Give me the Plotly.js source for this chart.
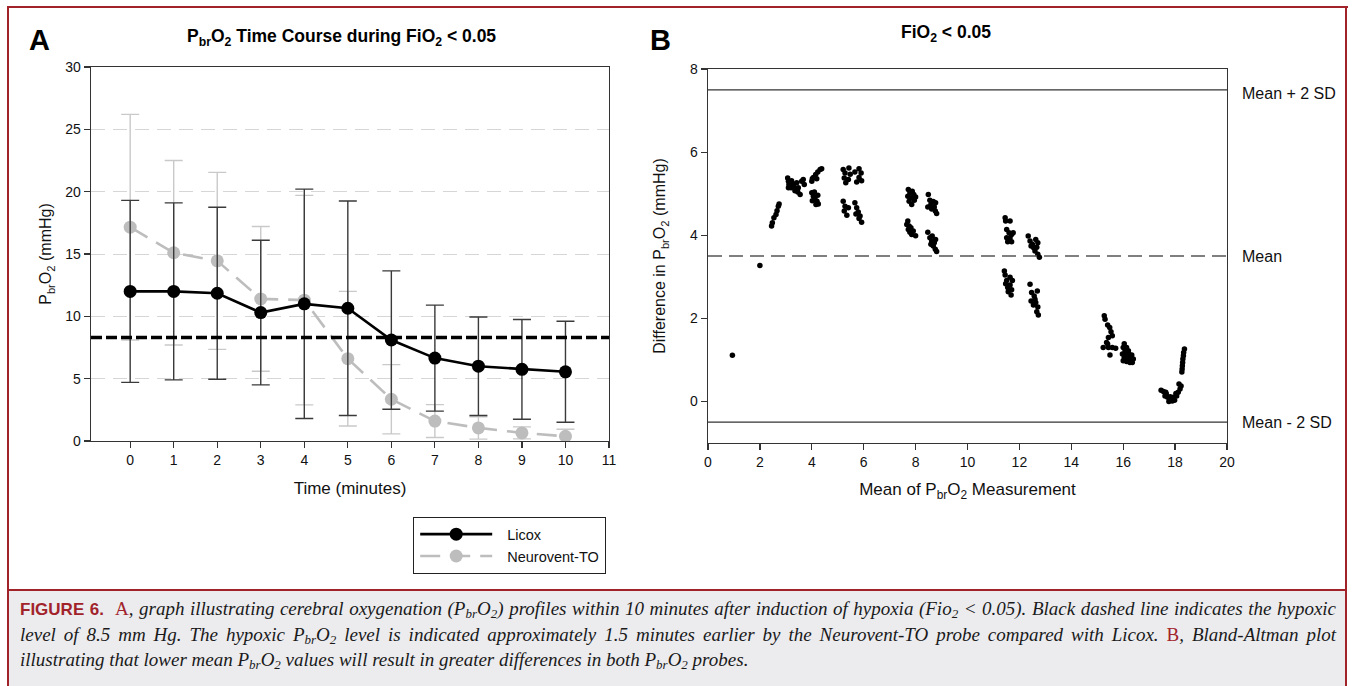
<!DOCTYPE html>
<html>
<head>
<meta charset="utf-8">
<script src="https://cdn.plot.ly/plotly-3.0.1.min.js"></script>
<style>
  html, body { margin:0; padding:0; }
  body { width:1354px; height:686px; overflow:hidden; background:#fff; position:relative; font-family:"Liberation Sans", Arial, sans-serif; }
  #plot { position:absolute; left:0; top:0; width:1354px; height:590px; }
  .bar { position:absolute; background:#a2222a; }
  #caption { position:absolute; left:9px; top:591px; width:1336px; height:100px; background:#ececef; }
  #caption .ln { position:absolute; left:11px; width:1316px; font-family:"Liberation Serif", "DejaVu Serif", serif; font-style:italic; font-size:19px; line-height:20px; color:#1a1a1a; white-space:normal; }
  #caption .j { text-align:justify; text-align-last:justify; }
  #caption sub { font-size:13px; line-height:0; vertical-align:-3px; }
  #caption .fig { font-family:"Liberation Sans Narrow", "Liberation Sans", sans-serif; font-style:normal; font-weight:bold; color:#a2222a; font-size:17px; }
  #caption .red { font-style:normal; color:#a2222a; }
</style>
</head>
<body>
<div id="plot"></div>
<div class="bar" style="left:7px; top:6px; width:1341px; height:2px;"></div>
<div class="bar" style="left:7px; top:6px; width:2px; height:680px;"></div>
<div class="bar" style="left:1345px; top:6px; width:2px; height:680px;"></div>
<div class="bar" style="left:7px; top:589px; width:1340px; height:2px;"></div>
<div id="caption">
  <div class="ln j" style="top:8px;"><span class="fig">FIGURE 6.</span>&nbsp; <span class="red">A</span>, graph illustrating cerebral oxygenation (P<sub>br</sub>O<sub>2</sub>) profiles within 10 minutes after induction of hypoxia (Fio<sub>2</sub> &lt; 0.05). Black dashed line indicates the hypoxic</div>
  <div class="ln j" style="top:34px;">level of 8.5 mm Hg. The hypoxic P<sub>br</sub>O<sub>2</sub> level is indicated approximately 1.5 minutes earlier by the Neurovent-TO probe compared with Licox. <span class="red">B</span>, Bland-Altman plot</div>
  <div class="ln" style="top:59px;">illustrating that lower mean P<sub>br</sub>O<sub>2</sub> values will result in greater differences in both P<sub>br</sub>O<sub>2</sub> probes.</div>
</div>
<script>
// ---------- Panel A data ----------
const timeMin = [0, 1, 2, 3, 4, 5, 6, 7, 8, 9, 10];
const licoxMean = [12.0, 12.0, 11.85, 10.3, 11.0, 10.65, 8.1, 6.65, 6.0, 5.75, 5.55];
const licoxSD = [7.3, 7.1, 6.9, 5.8, 9.2, 8.6, 5.55, 4.25, 3.95, 4.0, 4.05];
const neuroMean = [17.15, 15.1, 14.45, 11.4, 11.3, 6.6, 3.35, 1.6, 1.05, 0.65, 0.38];
const neuroSD = [9.05, 7.4, 7.1, 5.8, 8.4, 5.4, 2.78, 1.32, 0.9, 0.48, 0.56];
const hypoxicLevel = 8.3;
const xTicksA = [0, 1, 2, 3, 4, 5, 6, 7, 8, 9, 10, 11];
const yTicksA = [0, 5, 10, 15, 20, 25, 30];

// ---------- Panel B data (Bland-Altman) ----------
const blandX = [
  0.94, 2.00,
  2.45, 2.48, 2.54, 2.62, 2.66, 2.71, 2.74,
  3.07, 3.10, 3.12, 3.10, 3.22, 3.29, 3.33, 3.42, 3.48, 3.46, 3.55, 3.61, 3.67, 3.71, 3.35, 3.20,
  4.00, 4.06, 4.15, 4.23, 4.32, 4.38, 4.19, 4.02,
  4.00, 4.06, 4.12, 4.20, 4.25, 4.10, 4.23, 4.02, 4.16,
  5.21, 5.28, 5.25, 5.31, 5.43, 5.48, 5.41, 5.66, 5.82, 5.90, 5.82, 5.92, 5.73,
  5.21, 5.28, 5.25, 5.35, 5.41, 5.66, 5.73, 5.79, 5.86, 5.92, 5.82, 5.70,
  7.72, 7.78, 7.87, 7.93, 7.82, 8.00, 7.75, 7.85, 7.95, 7.70,
  8.49, 8.55, 8.68, 8.77, 8.72, 8.62, 8.76, 8.81, 8.59, 8.47,
  7.70, 7.66, 7.75, 7.82, 7.72, 7.91, 7.85, 8.00, 7.78,
  8.47, 8.55, 8.64, 8.62, 8.72, 8.68, 8.76, 8.81, 8.59, 8.77,
  11.45, 11.47, 11.64, 11.51, 11.60, 11.70, 11.51, 11.64, 11.76, 11.55, 11.70,
  12.34, 12.41, 12.50, 12.63, 12.71, 12.55, 12.60, 12.71, 12.77, 12.45, 12.67,
  11.42, 11.45, 11.51, 11.64, 11.73, 11.64, 11.55, 11.70, 11.57, 11.68, 11.47,
  12.41, 12.47, 12.57, 12.69, 12.60, 12.45, 12.54, 12.71, 12.67, 12.73, 12.63,
  15.27, 15.30, 15.40, 15.48, 15.53, 15.58, 15.43, 15.36, 15.23, 15.43, 15.58, 15.71, 15.49, 15.40,
  16.04, 16.00, 16.13, 16.07, 16.20, 15.97, 16.10, 16.22, 16.33, 16.04, 16.17, 16.30, 16.39, 16.00, 16.13, 16.26, 16.35,
  18.36, 18.33, 18.32, 18.30, 18.29, 18.28, 18.27, 18.26,
  17.46, 17.55, 17.64, 17.61, 17.71, 17.80, 17.89, 17.98, 17.76, 17.93, 18.06, 18.12, 18.19, 18.23, 18.15, 18.03, 17.66, 17.81
];
const blandY = [
  1.11, 3.27,
  4.22, 4.30, 4.42, 4.50, 4.59, 4.70, 4.75,
  5.38, 5.30, 5.22, 5.14, 5.31, 5.23, 5.15, 5.26, 5.14, 5.04, 4.98, 5.30, 5.34, 5.22, 5.07, 5.14,
  5.30, 5.39, 5.46, 5.52, 5.58, 5.60, 5.36, 5.36,
  5.02, 4.94, 4.88, 4.82, 4.75, 5.04, 4.96, 4.83, 4.74,
  5.58, 5.50, 5.38, 5.26, 5.62, 5.47, 5.34, 5.52, 5.60, 5.50, 5.39, 5.31, 5.28,
  4.82, 4.70, 4.58, 4.48, 4.66, 4.78, 4.66, 4.56, 4.46, 4.31, 4.40, 4.51,
  5.10, 5.02, 5.06, 4.98, 4.90, 4.92, 4.82, 4.74, 4.84, 4.94,
  4.98, 4.84, 4.81, 4.78, 4.68, 4.63, 4.58, 4.52, 4.74, 4.68,
  4.34, 4.26, 4.22, 4.18, 4.14, 4.10, 4.02, 3.99, 4.07,
  4.07, 3.94, 3.98, 3.86, 3.82, 3.74, 3.66, 3.61, 3.78, 3.90,
  4.42, 4.34, 4.34, 4.14, 4.06, 4.02, 3.94, 3.94, 4.06, 3.84, 3.84,
  3.98, 3.86, 3.78, 3.90, 3.82, 3.70, 3.62, 3.54, 3.47, 3.74, 3.71,
  3.14, 3.04, 2.91, 2.99, 2.91, 2.80, 2.74, 2.69, 2.64, 2.56, 2.83,
  2.82, 2.62, 2.54, 2.66, 2.46, 2.42, 2.32, 2.27, 2.16, 2.08, 2.38,
  2.06, 1.98, 1.84, 1.78, 1.68, 1.58, 1.54, 1.42, 1.30, 1.30, 1.30, 1.28, 1.12, 1.38,
  1.39, 1.30, 1.30, 1.22, 1.22, 1.14, 1.14, 1.14, 1.12, 1.06, 1.06, 1.04, 1.02, 0.98, 0.96, 0.94, 0.94,
  1.26, 1.18, 1.10, 1.02, 0.94, 0.86, 0.78, 0.71,
  0.27, 0.24, 0.22, 0.13, 0.10, 0.06, 0.01, 0.03, 0.00, 0.10, 0.13, 0.22, 0.30, 0.37, 0.42, 0.19, 0.18, 0.11
];
const blandMean = 3.5;
const blandSD = 2.0;
const xTicksB = [0, 2, 4, 6, 8, 10, 12, 14, 16, 18, 20];
const yTicksB = [0, 2, 4, 6, 8];
const limitLabels = ['Mean + 2 SD', 'Mean', 'Mean - 2 SD'];

// ---------- figure ----------
const W = 1354, H = 590;
const px = v => v / W;
const py = v => 1 - v / H;
const FONT = '"Liberation Sans", Arial, Helvetica, sans-serif';
const axisCol = '#333333';

const traces = [
  {
    x: timeMin, y: neuroMean, type: 'scatter', mode: 'lines+markers', name: 'Neurovent-TO',
    line: { color: '#bdbdbd', width: 2.6, dash: '20px,10px' },
    marker: { color: '#bdbdbd', size: 13 },
    error_y: { type: 'data', array: neuroSD, visible: true, color: '#c9c9c9', thickness: 1.4, width: 9 },
    xaxis: 'x', yaxis: 'y'
  },
  {
    x: timeMin, y: licoxMean, type: 'scatter', mode: 'lines+markers', name: 'Licox',
    line: { color: '#000000', width: 2.6 },
    marker: { color: '#000000', size: 13 },
    error_y: { type: 'data', array: licoxSD, visible: true, color: '#3a3a3a', thickness: 1.4, width: 9 },
    xaxis: 'x', yaxis: 'y'
  },
  {
    x: blandX, y: blandY, type: 'scatter', mode: 'markers', name: 'Bland-Altman',
    marker: { color: '#000000', size: 5.5 }, showlegend: false,
    xaxis: 'x2', yaxis: 'y2'
  }
];

const limits = [blandMean + 2 * blandSD, blandMean, blandMean - 2 * blandSD];

const shapes = [
  { type: 'line', xref: 'x domain', yref: 'y', x0: 0, x1: 1, y0: hypoxicLevel, y1: hypoxicLevel,
    line: { color: '#000', width: 3.6, dash: '11px,4px' }, layer: 'above' },
  { type: 'line', xref: 'x2 domain', yref: 'y2', x0: 0, x1: 1, y0: limits[0], y1: limits[0],
    line: { color: '#333', width: 1.3 } },
  { type: 'line', xref: 'x2 domain', yref: 'y2', x0: 0, x1: 1, y0: limits[1], y1: limits[1],
    line: { color: '#555', width: 1.5, dash: '14px,7px' } },
  { type: 'line', xref: 'x2 domain', yref: 'y2', x0: 0, x1: 1, y0: limits[2], y1: limits[2],
    line: { color: '#333', width: 1.3 } }
];

const annotations = [
  { text: '<b>A</b>', xref: 'paper', yref: 'paper', x: px(39), y: py(40), showarrow: false,
    font: { family: FONT, size: 29, color: '#000' }, xanchor: 'center', yanchor: 'middle' },
  { text: '<b>B</b>', xref: 'paper', yref: 'paper', x: px(660), y: py(40), showarrow: false,
    font: { family: FONT, size: 29, color: '#000' }, xanchor: 'center', yanchor: 'middle' },
  { text: '<b>P<sub>br</sub>O<sub>2</sub> Time Course during FiO<sub>2</sub> &lt; 0.05</b>', xref: 'paper', yref: 'paper',
    x: px(341), y: py(37), showarrow: false, font: { family: FONT, size: 17.5, color: '#000' }, xanchor: 'center', yanchor: 'middle' },
  { text: '<b>FiO<sub>2</sub> &lt; 0.05</b>', xref: 'paper', yref: 'paper',
    x: px(946), y: py(34), showarrow: false, font: { family: FONT, size: 17.5, color: '#000' }, xanchor: 'center', yanchor: 'middle' }
];
limits.forEach((v, i) => {
  annotations.push({ text: limitLabels[i], xref: 'paper', yref: 'y2', x: px(1240), y: v, yshift: i === 0 ? -4 : 0,
    showarrow: false, xanchor: 'left', yanchor: 'middle', font: { family: FONT, size: 16, color: '#111' } });
});

const axBase = {
  showline: true, linecolor: axisCol, linewidth: 1.3, mirror: true,
  ticks: 'outside', ticklen: 6, tickwidth: 1.2, tickcolor: axisCol,
  zeroline: false, showgrid: false,
  tickfont: { family: FONT, size: 14, color: '#111' }
};

const layout = {
  width: W, height: H,
  margin: { l: 0, r: 0, t: 0, b: 0 },
  paper_bgcolor: 'rgba(0,0,0,0)', plot_bgcolor: '#ffffff',
  font: { family: FONT, color: '#000' },
  showlegend: true,
  legend: {
    x: px(413), y: py(517), xanchor: 'left', yanchor: 'top',
    bordercolor: '#222', borderwidth: 1.2, bgcolor: '#fff',
    font: { family: FONT, size: 14.5, color: '#111' },
    itemwidth: 83, traceorder: 'reversed', tracegroupgap: 0
  },
  xaxis: Object.assign({}, axBase, {
    domain: [px(91), px(609)], range: [-0.9, 11], tickvals: xTicksA, anchor: 'y',
    title: { text: 'Time (minutes)', font: { family: FONT, size: 17, color: '#111' }, standoff: 15 }
  }),
  yaxis: Object.assign({}, axBase, {
    domain: [py(441), py(67)], range: [0, 30], tickvals: yTicksA, anchor: 'x',
    showgrid: true, gridcolor: '#d6d6d6', gridwidth: 1, griddash: '14px,8px',
    title: { text: 'P<sub>br</sub>O<sub>2</sub> (mmHg)', font: { family: FONT, size: 16, color: '#111' }, standoff: 9 }
  }),
  xaxis2: Object.assign({}, axBase, {
    domain: [px(708), px(1227)], range: [0, 20], tickvals: xTicksB, anchor: 'y2',
    title: { text: 'Mean of P<sub>br</sub>O<sub>2</sub> Measurement', font: { family: FONT, size: 17, color: '#111' }, standoff: 14 }
  }),
  yaxis2: Object.assign({}, axBase, {
    domain: [py(443), py(69)], range: [-1, 8], tickvals: yTicksB, anchor: 'x2',
    title: { text: 'Difference in P<sub>br</sub>O<sub>2</sub> (mmHg)', font: { family: FONT, size: 16, color: '#111' }, standoff: 20 }
  }),
  shapes: shapes,
  annotations: annotations
};

const gd = document.getElementById('plot');
Plotly.newPlot(gd, traces, layout, { staticPlot: true, displayModeBar: false }).then(() => {
  gd.querySelectorAll('.legend .traces').forEach(tr => {
    const ln = tr.querySelector('.js-line');
    if (ln) ln.setAttribute('d', 'M6,0h72');
    tr.querySelectorAll('.legendsymbols path.scatterpts').forEach(p => p.setAttribute('transform', 'translate(42,0)'));
  });
});
</script>
</body>
</html>
